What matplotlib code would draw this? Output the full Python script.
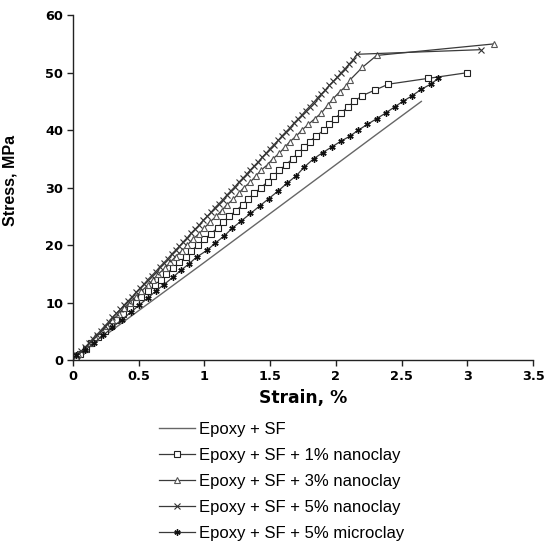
import matplotlib
matplotlib.use("Agg")
import matplotlib.pyplot as plt

# Epoxy + SF (plain line)
sf_strain = [0.02, 0.5, 1.0, 1.5, 2.0, 2.3, 2.65]
sf_stress = [0.5, 8.6, 17.0, 25.5, 34.0, 39.1, 45.0]

# Epoxy + SF + 1% nanoclay (squares)
nc1_strain = [0.02, 0.05, 0.10, 0.14, 0.19, 0.24, 0.29, 0.33, 0.38, 0.43, 0.48,
              0.52, 0.57, 0.62, 0.67, 0.71, 0.76, 0.81, 0.86, 0.90, 0.95,
              1.00, 1.05, 1.10, 1.14, 1.19, 1.24, 1.29, 1.33, 1.38, 1.43,
              1.48, 1.52, 1.57, 1.62, 1.67, 1.71, 1.76, 1.80, 1.85, 1.91,
              1.95, 1.99, 2.04, 2.09, 2.14, 2.20, 2.30, 2.40, 2.70, 3.00]
nc1_stress = [0.6, 1, 2, 3, 4, 5, 6, 7, 8, 9, 10,
              11, 12, 13, 14, 15, 16, 17, 18, 19, 20,
              21, 22, 23, 24, 25, 26, 27, 28, 29, 30,
              31, 32, 33, 34, 35, 36, 37, 38, 39, 40,
              41, 42, 43, 44, 45, 46, 47, 48, 49, 50]

# Epoxy + SF + 3% nanoclay (triangles)
nc3_strain = [0.02, 0.04, 0.09, 0.13, 0.17, 0.22, 0.26, 0.30, 0.35, 0.39, 0.43,
              0.48, 0.52, 0.57, 0.61, 0.65, 0.70, 0.74, 0.78, 0.83, 0.87,
              0.91, 0.96, 1.00, 1.04, 1.09, 1.13, 1.17, 1.22, 1.26, 1.30,
              1.35, 1.39, 1.43, 1.48, 1.52, 1.57, 1.61, 1.65, 1.70, 1.74,
              1.79, 1.84, 1.89, 1.94, 1.98, 2.03, 2.08, 2.11, 2.20, 2.31, 3.20]
nc3_stress = [0.6, 1, 2, 3, 4, 5, 6, 7, 8, 9, 10,
              11, 12, 13, 14, 15, 16, 17, 18, 19, 20,
              21, 22, 23, 24, 25, 26, 27, 28, 29, 30,
              31, 32, 33, 34, 35, 36, 37, 38, 39, 40,
              41, 42, 43, 44.4, 45.5, 46.7, 47.7, 48.8, 50.9, 53.0, 55.0]

# Epoxy + SF + 5% nanoclay (crosses)
nc5_strain = [0.03, 0.06, 0.09, 0.12, 0.15, 0.18, 0.21, 0.24, 0.27, 0.30,
              0.33, 0.36, 0.39, 0.42, 0.45, 0.48, 0.51, 0.54, 0.57, 0.60,
              0.63, 0.66, 0.69, 0.72, 0.75, 0.78, 0.81, 0.84, 0.87, 0.90,
              0.93, 0.96, 0.99, 1.02, 1.05, 1.08, 1.11, 1.14, 1.17, 1.20,
              1.23, 1.26, 1.29, 1.32, 1.35, 1.38, 1.41, 1.44, 1.47, 1.50,
              1.53, 1.56, 1.59, 1.62, 1.65, 1.68, 1.71, 1.74, 1.77, 1.80,
              1.83, 1.86, 1.89, 1.92, 1.95, 1.98, 2.01, 2.04, 2.07, 2.10,
              2.13, 2.16, 3.10]
nc5_stress = [0.9, 1.5, 2.2, 2.9, 3.7, 4.4, 5.1, 5.9, 6.6, 7.4,
              8.1, 8.8, 9.6, 10.3, 11.0, 11.8, 12.5, 13.2, 14.0, 14.7,
              15.4, 16.2, 16.9, 17.6, 18.4, 19.1, 19.8, 20.6, 21.3, 22.1,
              22.8, 23.5, 24.3, 25.0, 25.7, 26.5, 27.2, 27.9, 28.7, 29.4,
              30.1, 30.9, 31.6, 32.3, 33.1, 33.8, 34.5, 35.3, 36.0, 36.8,
              37.5, 38.2, 39.0, 39.7, 40.4, 41.2, 41.9, 42.6, 43.4, 44.1,
              44.8, 45.6, 46.3, 47.0, 47.8, 48.5, 49.2, 50.0, 50.7, 51.5,
              52.2, 53.2, 54.0]

# Epoxy + SF + 5% microclay (asterisks)
mc5_strain = [0.02, 0.09, 0.16, 0.23, 0.30, 0.37, 0.44, 0.50, 0.57, 0.63, 0.69,
              0.76, 0.82, 0.88, 0.94, 1.02, 1.08, 1.15, 1.21, 1.28, 1.35,
              1.42, 1.49, 1.56, 1.63, 1.70, 1.76, 1.83, 1.90, 1.97, 2.04,
              2.11, 2.17, 2.24, 2.31, 2.38, 2.45, 2.51, 2.58, 2.65, 2.72, 2.78]
mc5_stress = [0.8, 1.7, 3.0, 4.3, 5.7, 7.0, 8.3, 9.5, 10.8, 12.0, 13.1,
              14.4, 15.6, 16.7, 17.9, 19.1, 20.3, 21.6, 22.9, 24.2, 25.5,
              26.8, 28.1, 29.4, 30.8, 32.1, 33.6, 35.0, 36.1, 37.1, 38.1,
              39.0, 40.0, 41.0, 42.0, 43.0, 44.1, 45.0, 46.0, 47.1, 48.0, 49.0]

labels = ["Epoxy + SF", "Epoxy + SF + 1% nanoclay", "Epoxy + SF + 3% nanoclay",
          "Epoxy + SF + 5% nanoclay", "Epoxy + SF + 5% microclay"]

tick_font = {"family": ["DejaVu Sans"], "weight": "bold", "size": 9.3}
xlabel_font = {"family": ["DejaVu Sans"], "weight": "bold", "size": 12.3}
ylabel_font = {"family": ["Liberation Sans", "DejaVu Sans"], "weight": "bold", "size": 11.5}

fig = plt.figure(figsize=(5.49, 5.43), dpi=100)
ax = fig.add_axes([0.133, 0.337, 0.838, 0.635])

line_col = "#3a3a3a"
ax.plot(sf_strain, sf_stress, "-", color="#666666", lw=1.0, label=labels[0])
ax.plot(nc1_strain, nc1_stress, "-", color=line_col, lw=0.9, marker="s", ms=4.5,
        mfc="white", mec="#222222", mew=0.8, label=labels[1])
ax.plot(nc3_strain, nc3_stress, "-", color=line_col, lw=0.9, marker="^", ms=5,
        mfc="white", mec="#555555", mew=0.8, label=labels[2])
ax.plot(nc5_strain, nc5_stress, "-", color=line_col, lw=0.9, marker="x", ms=5,
        mec="#333333", mew=0.8, label=labels[3])
ax.plot(mc5_strain, mc5_stress, "-", color=line_col, lw=0.9, marker=(6, 2, 0), ms=4.5,
        mec="#111111", mew=1.0, label=labels[4])

ax.set_xlim(0, 3.5)
ax.set_ylim(0, 60)
ax.set_xticks([0, 0.5, 1, 1.5, 2, 2.5, 3, 3.5])
ax.set_xticklabels(["0", "0.5", "1", "1.5", "2", "2.5", "3", "3.5"], fontdict=tick_font)
ax.set_yticks([0, 10, 20, 30, 40, 50, 60])
ax.set_yticklabels(["0", "10", "20", "30", "40", "50", "60"], fontdict=tick_font)
ax.spines["top"].set_visible(False)
ax.spines["right"].set_visible(False)
for s in ("left", "bottom"):
    ax.spines[s].set_color("#222222")
    ax.spines[s].set_linewidth(1.0)
ax.tick_params(direction="out", length=4, width=1.0, color="#222222", pad=3)

ax.set_xlabel("Strain, %", fontdict=xlabel_font)
ax.xaxis.set_label_coords(0.5, -0.085)
ax.set_ylabel("Stress, MPa", fontdict=ylabel_font)
ax.yaxis.set_label_coords(-0.12, 0.52)

handles, labs = ax.get_legend_handles_labels()
fig.legend(handles, labs, loc="upper left", bbox_to_anchor=(0.275, 0.238),
           frameon=False, numpoints=1, handlelength=2.15, handletextpad=0.25,
           labelspacing=0.66, borderpad=0,
           prop={"family": ["Liberation Sans", "DejaVu Sans"], "size": 12})

fig.savefig("out.png", dpi=100)
